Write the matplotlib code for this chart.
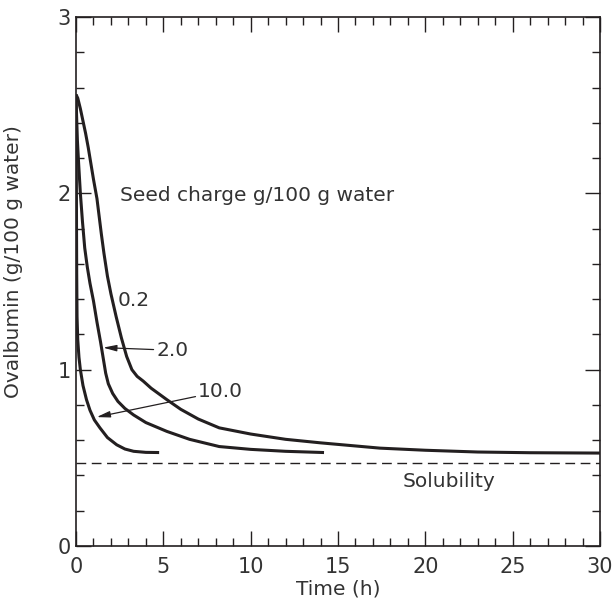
import numpy as np
import matplotlib.pyplot as plt
from matplotlib.ticker import MultipleLocator

# curves: ovalbumin concentration vs time, per seed charge
t_02 = [0, 0.1, 0.25, 0.4, 0.55, 0.7, 0.85, 1.0, 1.2, 1.45, 1.6, 1.8, 2.0, 2.3, 2.6, 2.9, 3.2, 3.5,
        3.85, 4.3, 5.2, 6.0, 7.0, 8.2, 10.0, 12.0, 14.0, 17.4, 20.0, 23.0, 26.0, 30.0]
c_02 = [2.56, 2.54, 2.48, 2.41, 2.34, 2.26, 2.17, 2.08, 1.97, 1.77, 1.66, 1.53, 1.43, 1.30, 1.18,
        1.075, 1.0, 0.962, 0.935, 0.895, 0.83, 0.775, 0.72, 0.67, 0.635, 0.605, 0.585, 0.555,
        0.543, 0.533, 0.529, 0.527]

t_20 = [0, 0.03, 0.08, 0.15, 0.25, 0.37, 0.5, 0.65, 0.8, 1.0, 1.2, 1.4, 1.55, 1.7, 1.85, 2.1,
        2.4, 2.8, 3.3, 4.0, 5.2, 6.5, 8.2, 10.0, 12.0, 14.2]
c_20 = [2.56, 2.45, 2.30, 2.17, 2.0, 1.84, 1.69, 1.58, 1.49, 1.39, 1.27, 1.16, 1.07, 0.98, 0.92,
        0.865, 0.82, 0.78, 0.743, 0.70, 0.65, 0.605, 0.564, 0.548, 0.537, 0.53]

t_100 = [0, 0.01, 0.02, 0.03, 0.04, 0.06, 0.1, 0.17, 0.25, 0.4, 0.6, 0.8, 1.05, 1.37, 1.8,
         2.33, 2.8, 3.3, 4.0, 4.76]
c_100 = [2.56, 2.35, 2.1, 1.8, 1.55, 1.3, 1.17, 1.07, 1.0, 0.91, 0.83, 0.77, 0.715, 0.67, 0.615,
         0.574, 0.55, 0.537, 0.531, 0.53]

solubility = 0.47

ink = "#231f20"
txt = "#333333"
plt.rcParams["font.family"] = ["DejaVu Sans"]

fig = plt.figure(figsize=(6.16, 6.0), dpi=100)
ax = fig.add_axes([76 / 616, 54 / 600, 524 / 616, 529 / 600])

for t, c in [(t_02, c_02), (t_20, c_20), (t_100, c_100)]:
    ax.plot(t, c, color=ink, lw=2.2, solid_joinstyle="round", solid_capstyle="butt")

ax.axhline(solubility, color=ink, lw=1.0, dashes=(7, 4))

ax.set_xlim(0, 30)
ax.set_ylim(0, 3)
ax.xaxis.set_major_locator(MultipleLocator(5))
ax.xaxis.set_minor_locator(MultipleLocator(1))
ax.yaxis.set_major_locator(MultipleLocator(1))
ax.yaxis.set_minor_locator(MultipleLocator(0.2))
ax.tick_params(which="both", direction="in", top=True, right=True, color=ink, width=1.0)
ax.tick_params(which="major", length=11)
ax.tick_params(which="minor", length=5.5)
ax.tick_params(axis="x", which="major", labelsize=15, labelcolor=txt, pad=8)
ax.tick_params(axis="y", which="major", labelsize=15, labelcolor=txt, pad=4)
for s in ax.spines.values():
    s.set_color(ink)
    s.set_linewidth(1.2)

ax.set_xlabel("Time (h)", fontsize=14.5, color=txt, labelpad=1.5)
ax.set_ylabel("Ovalbumin (g/100 g water)", fontsize=14.5, color=txt)
ax.yaxis.set_label_coords(-0.101, 0.537)

ax.text(2.5, 1.985, "Seed charge g/100 g water", fontsize=14.5, color=txt, va="center")
ax.text(2.4, 1.39, "0.2", fontsize=14.5, color=txt, va="center")
ax.text(18.7, 0.365, "Solubility", fontsize=14.5, color=txt, va="center")

arrow = dict(arrowstyle="-|>,head_width=0.13,head_length=0.55", color=ink, lw=0.9,
             shrinkA=0, shrinkB=0)
ax.annotate("2.0", xy=(1.55, 1.125), xytext=(4.6, 1.11), fontsize=14.5, color=txt,
            va="center", arrowprops=arrow)
ax.annotate("10.0", xy=(1.18, 0.731), xytext=(7.0, 0.877), fontsize=14.5, color=txt,
            va="center", arrowprops=arrow)

fig.savefig("out.png", dpi=100)
